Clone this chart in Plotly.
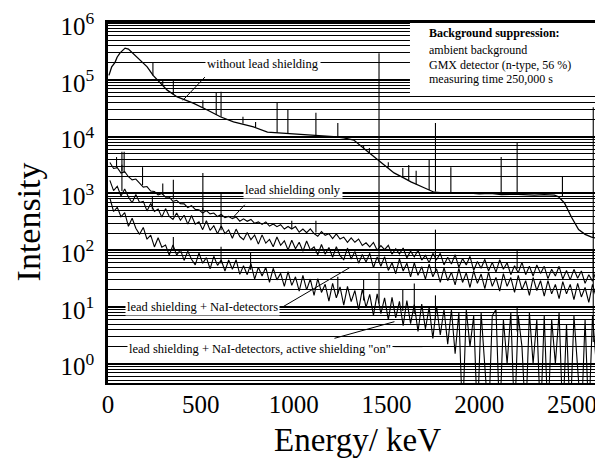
import plotly.graph_objects as go

# ---------------- data ----------------
# Spectrum 1: without lead shielding (continuum)
s1_energy = [5, 20, 38, 49, 65, 80, 92, 110, 135, 170, 211, 243, 280, 319, 373, 420, 459, 535,
             605, 676, 730, 784, 859, 946, 1038, 1120, 1216, 1270, 1324, 1400, 1470, 1508, 1541,
             1590, 1632, 1703, 1757, 1811, 1870, 1935, 2000, 2060, 2119, 2180, 2240, 2297, 2350,
             2405, 2427, 2459, 2497, 2535, 2570, 2605, 2640]
s1_counts = [120000, 170000, 204000, 251000, 300000, 340000, 363000, 350000, 295000, 230000,
             170000, 120000, 88000, 66000, 50000, 44000, 39000, 29500, 22400, 18200, 16500,
             14800, 12000, 11500, 10700, 10500, 10000, 9500, 8700, 5400, 3550, 2900, 2300, 1900,
             1600, 1260, 1050, 1020, 1000, 1020, 980, 1000, 950, 970, 940, 930, 950, 930, 870,
             680, 380, 230, 190, 170, 160]
# peaks: (energy keV, continuum level, peak top)
s1_peaks = [(242, 120000, 200000), (295, 80000, 100000), (352, 55000, 100000),
            (511, 32000, 44000), (583, 24000, 59000), (609, 22400, 62000),
            (727, 17000, 22400), (795, 14500, 18200), (911, 11700, 40700),
            (969, 11200, 29500), (1120, 10500, 26300), (1238, 9900, 17400),
            (1377, 6300, 7100), (1408, 5100, 6300), (1460, 3800, 295000),
            (1510, 2850, 3550), (1588, 2000, 2800), (1620, 1700, 3160),
            (1660, 1450, 2500), (1730, 1150, 3900), (1764, 1080, 17400),
            (1847, 1010, 2900), (2118, 950, 4370), (2204, 960, 7940),
            (2448, 880, 1950), (2614, 165, 33000)]

# channel energies for the three shielded spectra (keV)
grid_energy = list(range(10, 2651, 20))

# Spectrum 2: lead shielding only
s2_counts = [3500, 2750, 2850, 2280, 2420, 1970, 1730, 1790, 1520, 1290,
             1320, 1100, 1080, 940, 1000, 860, 860, 725, 756, 657,
             654, 564, 610, 523, 515, 451, 498, 436, 452, 391,
             425, 375, 393, 359, 384, 324, 357, 323, 348, 298,
             315, 285, 315, 265, 289, 259, 281, 236, 262, 236,
             260, 207, 236, 203, 237, 196, 176, 213, 183, 195,
             160, 193, 157, 170, 138, 165, 138, 157, 121, 135,
             114, 137, 100, 120, 102, 122, 85, 106, 86, 109,
             73, 96, 76, 100, 67, 81, 60, 88, 68, 88,
             55, 75, 57, 83, 50, 71, 55, 78, 44, 63,
             48, 69, 43, 61, 41, 68, 46, 60, 37, 53,
             40, 61, 37, 52, 35, 55, 39, 52, 31.5, 46,
             35, 52, 31, 44, 30, 46, 32, 43, 26, 37,
             28.5, 43, 26]
s2_peaks = [(46, 2850, 4370), (75, 2500, 5400), (87, 2300, 5400), (186, 1400, 2900),
            (295, 950, 1500), (352, 790, 1740), (511, 490, 2300), (609, 410, 1000),
            (990, 245, 330), (1120, 205, 330), (1460, 112, 3800), (1764, 72, 230),
            (2204, 47, 100), (2614, 33, 220)]

# Spectrum 3: lead shielding + NaI detectors
s3_counts = [1700, 1120, 1340, 900, 1200, 864, 686, 960, 694, 726,
             492, 667, 482, 530, 382, 540, 394, 349, 452, 336,
             412, 288, 408, 288, 317, 230, 329, 223, 270, 194,
             268, 196, 227, 162, 235, 174, 153, 204, 153, 185,
             128, 186, 133, 155, 115, 171, 122, 146, 101, 150,
             106, 138, 96, 145, 101, 114, 83, 126, 85, 112,
             75, 115, 80, 68, 109, 70, 95, 59, 84, 62,
             88, 49, 76, 52, 77, 44, 60, 38.5, 70, 43,
             59, 34, 60, 36, 51, 31, 57, 34, 47, 27,
             49, 29, 41, 24.5, 48, 27, 40, 22, 43, 26,
             38, 21, 41, 23, 33, 19, 38.5, 23, 33, 18,
             36, 20, 29, 16, 33, 19.5, 29, 15.5, 29, 17,
             25, 14, 28, 17, 25, 13.5, 26, 15, 22, 12,
             25, 15, 21.5]
s3_peaks = [(75, 1100, 3200), (239, 520, 900), (352, 410, 700), (511, 290, 560),
            (609, 225, 420), (1460, 62, 630), (1764, 41, 90), (2614, 18, 100)]

# Spectrum 4: lead shielding + NaI detectors, active shielding "on"
# (0.1 = empty channel, drawn down to the bottom of the axis)
s4_counts = [830, 480, 570, 387, 460, 263, 366, 243, 190, 252,
             156, 184, 114, 166, 113, 123, 82, 124, 82, 102,
             66, 96, 69, 55, 89, 59, 74, 47, 78, 54,
             67, 43, 67, 46, 68, 37.5, 53, 37, 58, 31,
             50, 35, 50, 27, 48, 30, 39, 23, 42, 24,
             34, 19, 36, 20, 31, 16, 31.5, 18, 25, 12.7,
             26, 14.5, 22.5, 10.8, 23, 12.4, 19.5, 8.9, 20.5, 9.8,
             16.7, 7.1, 17, 7.6, 14.4, 5.9, 14.7, 6.4, 12.5, 4.7,
             13, 5.1, 11, 3.7, 11.2, 4.1, 9.8, 2.8, 10.4, 3.2,
             9.1, 2.2, 9, 1.5, 8, 0.1, 9, 2, 7, 0.1,
             8, 1, 0.1, 7, 9, 0.1, 6, 1, 8, 0.1,
             7, 2, 0.1, 8, 1, 6, 0.1, 7, 0.1, 6,
             1, 8, 0.1, 5, 0.1, 7, 1, 0.1, 6, 0.1,
             7, 1, 5]
s4_peaks = [(352, 103, 170), (609, 58, 115), (768, 45, 89), (1238, 17, 34),
            (1377, 13, 30), (1460, 11.5, 40), (1588, 8.5, 20), (1650, 7.6, 26),
            (1764, 6.2, 16), (2204, 3.7, 10), (2614, 2.4, 20)]

x_ticks = [0, 500, 1000, 1500, 2000, 2500]
y_ticks = [1, 10, 100, 1000, 10000, 100000, 1000000]
y_ticktext = ["10<sup>0</sup>", "10<sup>1</sup>", "10<sup>2</sup>", "10<sup>3</sup>",
              "10<sup>4</sup>", "10<sup>5</sup>", "10<sup>6</sup>"]

legend_lines = ["<b>Background suppression:</b>", "ambient background",
                "GMX detector (n-type, 56 %)", "measuring time 250,000 s"]

# ---------------- figure ----------------
SERIF = "Liberation Serif, Times New Roman, serif"


def peak_xy(peaks):
    xs, ys = [], []
    for e, b, t in peaks:
        xs += [e, e, None]
        ys += [b, t, None]
    return xs, ys


fig = go.Figure()
line = dict(color="black", width=1.1)

fig.add_trace(go.Scatter(x=s1_energy, y=s1_counts, mode="lines",
                         line=dict(color="black", width=1.3), hoverinfo="skip"))
for energies, counts in [(grid_energy, s2_counts), (grid_energy, s3_counts),
                         (grid_energy, s4_counts)]:
    fig.add_trace(go.Scatter(x=energies, y=counts, mode="lines", line=line,
                             hoverinfo="skip"))
for pk in [s1_peaks, s2_peaks, s3_peaks, s4_peaks]:
    px, py = peak_xy(pk)
    fig.add_trace(go.Scatter(x=px, y=py, mode="lines", line=line,
                             connectgaps=False, hoverinfo="skip"))

minor_vals = [m * 10 ** d for d in range(-1, 6) for m in range(2, 10)]

# the page body adds an 8 px offset, so the figure is smaller than the window
fig.update_layout(
    width=595, height=456,
    margin=dict(l=100, r=4, t=14, b=81),
    paper_bgcolor="white", plot_bgcolor="white",
    showlegend=False,
    font=dict(family=SERIF, color="black"),
    xaxis=dict(range=[0, 2645], tickmode="array", tickvals=x_ticks,
               tickfont=dict(family=SERIF, size=25, color="black"),
               showgrid=False, zeroline=False, showline=True, mirror=True,
               linecolor="black", linewidth=2, ticks="", ticklen=0,
               ticklabelstandoff=-2, ticklabeloverflow="allow",
               automargin=False),
    yaxis=dict(type="log", range=[-0.34, 6.02], tickmode="array",
               tickvals=y_ticks, ticktext=y_ticktext,
               tickfont=dict(family=SERIF, size=25, color="black"),
               showgrid=True, gridcolor="black", gridwidth=2,
               minor=dict(tickvals=minor_vals, showgrid=True,
                          gridcolor="black", gridwidth=1),
               zeroline=False, showline=True, mirror=True,
               linecolor="black", linewidth=2.5, ticks="", ticklabelstandoff=6,
               ticklabelshift=3, ticklabeloverflow="allow", automargin=False),
)

# legend box (white area in the upper right)
fig.add_shape(type="rect", xref="paper", yref="paper", x0=0.615, x1=0.994,
              y0=0.798, y1=0.997, fillcolor="white", line=dict(width=0),
              layer="above")

box_font = dict(family=SERIF, size=12, color="black")
for txt, ly in zip(legend_lines, [5.82, 5.53, 5.27, 5.01]):
    fig.add_annotation(x=1720, y=ly, xref="x", yref="y", text=txt, showarrow=False,
                       xanchor="left", yanchor="middle", font=box_font)

# curve labels (annotation y in log10 units)
lab_font = dict(family=SERIF, size=12.5, color="black")
labels = [
    ("without lead shielding", 833, 5.28),
    ("lead shielding only", 995, 3.06),
    ("lead shielding + NaI-detectors", 511, 1.0),
    ("lead shielding + NaI-detectors, active shielding \"on\"", 817, 0.26),
]
for txt, lx, ly in labels:
    fig.add_annotation(x=lx, y=ly, xref="x", yref="y", text=txt, showarrow=False,
                       xanchor="center", yanchor="middle", font=lab_font,
                       bgcolor="white", borderpad=1)

# leader lines from labels to curves (x in keV, y in counts)
leaders = [
    (522, 112000, 403, 43600),
    (737, 631, 672, 372),
    (941, 10, 1301, 49),
    (1220, 2.8, 1543, 5.5),
    (1543, 2.0, 1694, 2.0),
]
for x0, y0, x1, y1 in leaders:
    fig.add_shape(type="line", xref="x", yref="y", x0=x0, y0=y0, x1=x1, y1=y1,
                  line=dict(color="black", width=1), layer="above")

# axis titles
fig.add_annotation(x=0.509, y=-0.158, xref="paper", yref="paper", text="Energy/ keV",
                   showarrow=False, xanchor="center", yanchor="middle",
                   font=dict(family=SERIF, size=33, color="black"))
fig.add_annotation(x=-0.16, y=0.446, xref="paper", yref="paper", text="Intensity",
                   showarrow=False, xanchor="center", yanchor="middle", textangle=-90,
                   font=dict(family=SERIF, size=34, color="black"))

fig.write_html("out.html")
